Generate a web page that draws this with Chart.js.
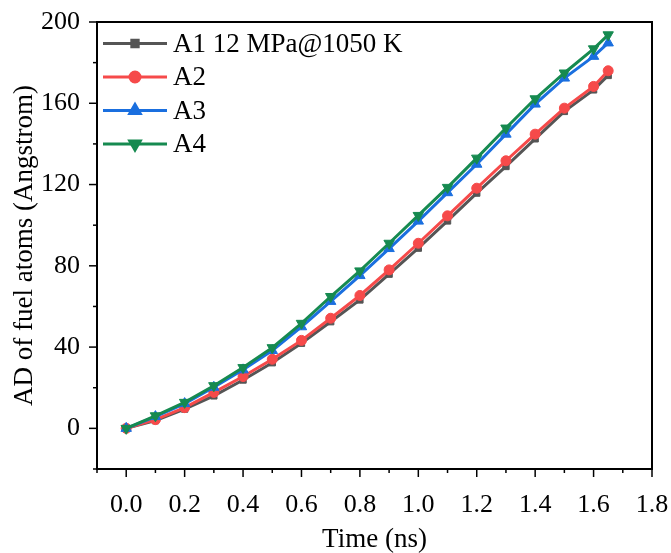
<!DOCTYPE html>
<html><head><meta charset="utf-8">
<script src="https://cdn.jsdelivr.net/npm/chart.js@4"></script>
<style>html,body{margin:0;padding:0;background:#fff}#wrap{width:671px;height:553px}</style>
</head><body><div id="wrap"><canvas id="c" width="671" height="553"></canvas></div>
<script>
const times = [0,0.1,0.2,0.3,0.4,0.5,0.6,0.7,0.8,0.9,1.0,1.1,1.2,1.3,1.4,1.5,1.6,1.65];
const seriesLabels = ['A1 12 MPa@1050 K','A2','A3','A4'];
const a1 = [0,3.8,9.5,16,23.8,32.3,41.9,52.5,63.2,75.9,88.7,102.1,115.8,128.9,142.5,156,166.6,173.7];
const a2 = [0,4.3,10.2,17.7,25.5,34,43.3,54.2,65.4,78,91.1,104.6,118.2,131.7,144.8,157.6,168.3,176];
const a3 = [0,5.8,12.2,20.2,28.8,38.3,50,62.5,75.2,88.5,102,116,130,144.8,159.6,172.4,183.1,189.7];
const a4 = [0,6.2,12.8,21,29.9,39.7,51.7,64.9,77.5,91.1,104.8,118.6,133,147.8,162.2,174.9,186.8,193.7];
const xTicks = [0,0.2,0.4,0.6,0.8,1.0,1.2,1.4,1.6,1.8];
const yTicks = [0,40,80,120,160,200];

const FONT = '"Liberation Serif","Times New Roman",serif';
const colors = ['#555555','#f64a4a','#1a6fdf','#168a50'];
const styles = ['rect','circle','triangle','triangle'];
const rots = [0,0,0,180];
const radii = [4.5,5,6,6];
const vals = [a1,a2,a3,a4];

const datasets = vals.map((v,i)=>({
  label: seriesLabels[i],
  data: times.map((t,j)=>({x:t,y:v[j]})),
  borderColor: colors[i], backgroundColor: colors[i],
  borderWidth: 3, pointStyle: styles[i], rotation: rots[i],
  pointRadius: radii[i], pointBorderWidth: 1, pointBorderColor: colors[i],
  order: 4-i, tension: 0
}));

const framePlugin = {
  id:'frame',
  afterDraw(chart){
    const {ctx, chartArea:a, scales:{x,y}} = chart;
    ctx.save();
    ctx.strokeStyle='#000'; ctx.lineWidth=2;
    ctx.strokeRect(a.left,a.top,a.right-a.left,a.bottom-a.top);
    ctx.lineWidth=1.5;
    for(let k=-1;k<=18;k++){
      const v=k/10; const px=x.getPixelForValue(v);
      if(px<a.left-0.5||px>a.right+0.5) continue;
      const len = (k%2===0)?8:4;
      ctx.beginPath(); ctx.moveTo(px,a.bottom); ctx.lineTo(px,a.bottom+len); ctx.stroke();
    }
    for(let v=-20;v<=200;v+=20){
      const py=y.getPixelForValue(v);
      const len = (v%40===0)?8:4;
      ctx.beginPath(); ctx.moveTo(a.left,py); ctx.lineTo(a.left-len,py); ctx.stroke();
    }
    // legend
    const lx0=103, lx1=167, tx=173, y0=43.5, dy=33.5;
    chart.data.datasets.forEach((d,i)=>{
      const yy=y0+i*dy;
      ctx.strokeStyle=d.borderColor; ctx.lineWidth=3;
      ctx.beginPath(); ctx.moveTo(lx0,yy); ctx.lineTo(lx1,yy); ctx.stroke();
      ctx.save(); ctx.fillStyle=d.backgroundColor; ctx.strokeStyle=d.borderColor;
      Chart.helpers.drawPoint(ctx,{pointStyle:d.pointStyle,rotation:d.rotation,radius:d.pointRadius,borderWidth:1},(lx0+lx1)/2,yy);
      ctx.restore();
      ctx.fillStyle='#000'; ctx.font='27px '+FONT; ctx.textBaseline='middle'; ctx.textAlign='left';
      ctx.fillText(d.label,tx,yy+1);
    });
    ctx.restore();
  }
};

new Chart(document.getElementById('c'),{
  type:'line',
  data:{datasets},
  options:{
    responsive:false, animation:false,
    layout:{padding:{top:22,right:19,left:0,bottom:0}},
    plugins:{legend:{display:false},tooltip:{enabled:false}},
    scales:{
      x:{type:'linear',min:-0.1,max:1.8,
        afterBuildTicks(s){s.ticks=xTicks.map(v=>({value:v}));},
        afterFit(s){s.height=84; s.paddingLeft=0; s.paddingRight=0;},
        grid:{display:false}, border:{display:false},
        ticks:{padding:13,color:'#000',font:{family:FONT,size:26},maxRotation:0,autoSkip:false,callback:v=>v.toFixed(1)},
        title:{display:true,text:'Time (ns)',color:'#000',font:{family:FONT,size:27},padding:{top:4,bottom:-3}}
      },
      y:{type:'linear',min:-20,max:200,
        afterBuildTicks(s){s.ticks=yTicks.map(v=>({value:v}));},
        afterFit(s){s.width=97; s.paddingTop=0; s.paddingBottom=0;},
        grid:{display:false}, border:{display:false},
        ticks:{padding:9,color:'#000',font:{family:FONT,size:26},autoSkip:false},
        title:{display:true,text:'AD of fuel atoms (Angstrom)',color:'#000',font:{family:FONT,size:27},padding:{top:9,bottom:0}}
      }
    }
  },
  plugins:[framePlugin]
});
</script></body></html>
